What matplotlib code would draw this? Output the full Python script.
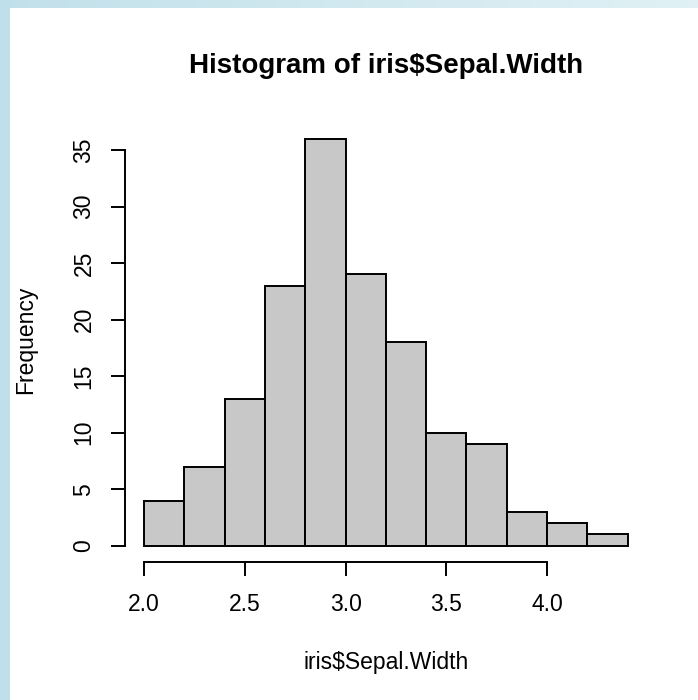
import numpy as np
import matplotlib
matplotlib.use("Agg")
import matplotlib.pyplot as plt
from matplotlib.patches import Rectangle

# histogram of iris$Sepal.Width (R default breaks)
breaks = [2.0, 2.2, 2.4, 2.6, 2.8, 3.0, 3.2, 3.4, 3.6, 3.8, 4.0, 4.2, 4.4]
counts = [4, 7, 13, 23, 36, 24, 18, 10, 9, 3, 2, 1]
x_ticks = [2.0, 2.5, 3.0, 3.5, 4.0]
y_ticks = [0, 5, 10, 15, 20, 25, 30, 35]

plt.rcParams['font.family'] = ['Liberation Sans', 'DejaVu Sans']

W, H = 698, 700
fig = plt.figure(figsize=(W / 100, H / 100), dpi=100)
fig.patch.set_facecolor('white')

# light blue frame at the left and top of the screenshot
bg = fig.add_axes([0, 0, 1, 1], zorder=-10)
bg.axis('off')
grad = np.linspace(0, 1, 256)
c0 = np.array([0.76, 0.88, 0.92])
c1 = np.array([0.88, 0.945, 0.96])
top = c0[None, :] * (1 - grad[:, None]) + c1[None, :] * grad[:, None]
bg.imshow(top[None, :, :], extent=[0, W, H - 8, H], aspect='auto')
bg.add_patch(Rectangle((0, 0), 10, H, color=(0.75, 0.88, 0.92), lw=0))
bg.add_patch(Rectangle((10, 0), W - 10, H - 8, color='white', lw=0))
bg.set_xlim(0, W)
bg.set_ylim(0, H)

# plot region as in R: range extended by 4 percent
xr = breaks[-1] - breaks[0]
yr = max(counts)
ax = fig.add_axes([124.7 / W, (H - 562) / H, (647 - 124.7) / W, (562 - 122.5) / H])
ax.set_xlim(breaks[0] - 0.04 * xr, breaks[-1] + 0.04 * xr)
ax.set_ylim(-0.04 * yr, yr * 1.04)
ax.patch.set_alpha(0)

lw = 1.4
widths = np.diff(breaks)
ax.bar(breaks[:-1], counts, width=widths, align='edge',
       color='#c8c8c8', edgecolor='black', linewidth=lw)

for s in ['top', 'right']:
    ax.spines[s].set_visible(False)
ax.spines['left'].set_bounds(y_ticks[0], y_ticks[-1])
ax.spines['bottom'].set_bounds(x_ticks[0], x_ticks[-1])
for s in ['left', 'bottom']:
    ax.spines[s].set_linewidth(lw)

ax.set_xticks(x_ticks)
ax.set_xticklabels([f"{v:.1f}" for v in x_ticks])
ax.set_yticks(y_ticks)
ax.set_yticklabels([str(v) for v in y_ticks], rotation=90, va='center')
ax.tick_params(axis='both', length=10, width=lw, labelsize=16.5)
ax.tick_params(axis='x', pad=12)
ax.tick_params(axis='y', pad=11)

fig.text(386 / W, 1 - 66 / H, "Histogram of iris$Sepal.Width",
         ha='center', va='center', fontsize=20, fontweight='bold')
fig.text(386 / W, 1 - 662 / H, "iris$Sepal.Width",
         ha='center', va='center', fontsize=16.5)
fig.text(26 / W, 1 - 340 / H, "Frequency", rotation=90,
         ha='center', va='center', fontsize=16.5)

fig.savefig("out.png", dpi=100)
